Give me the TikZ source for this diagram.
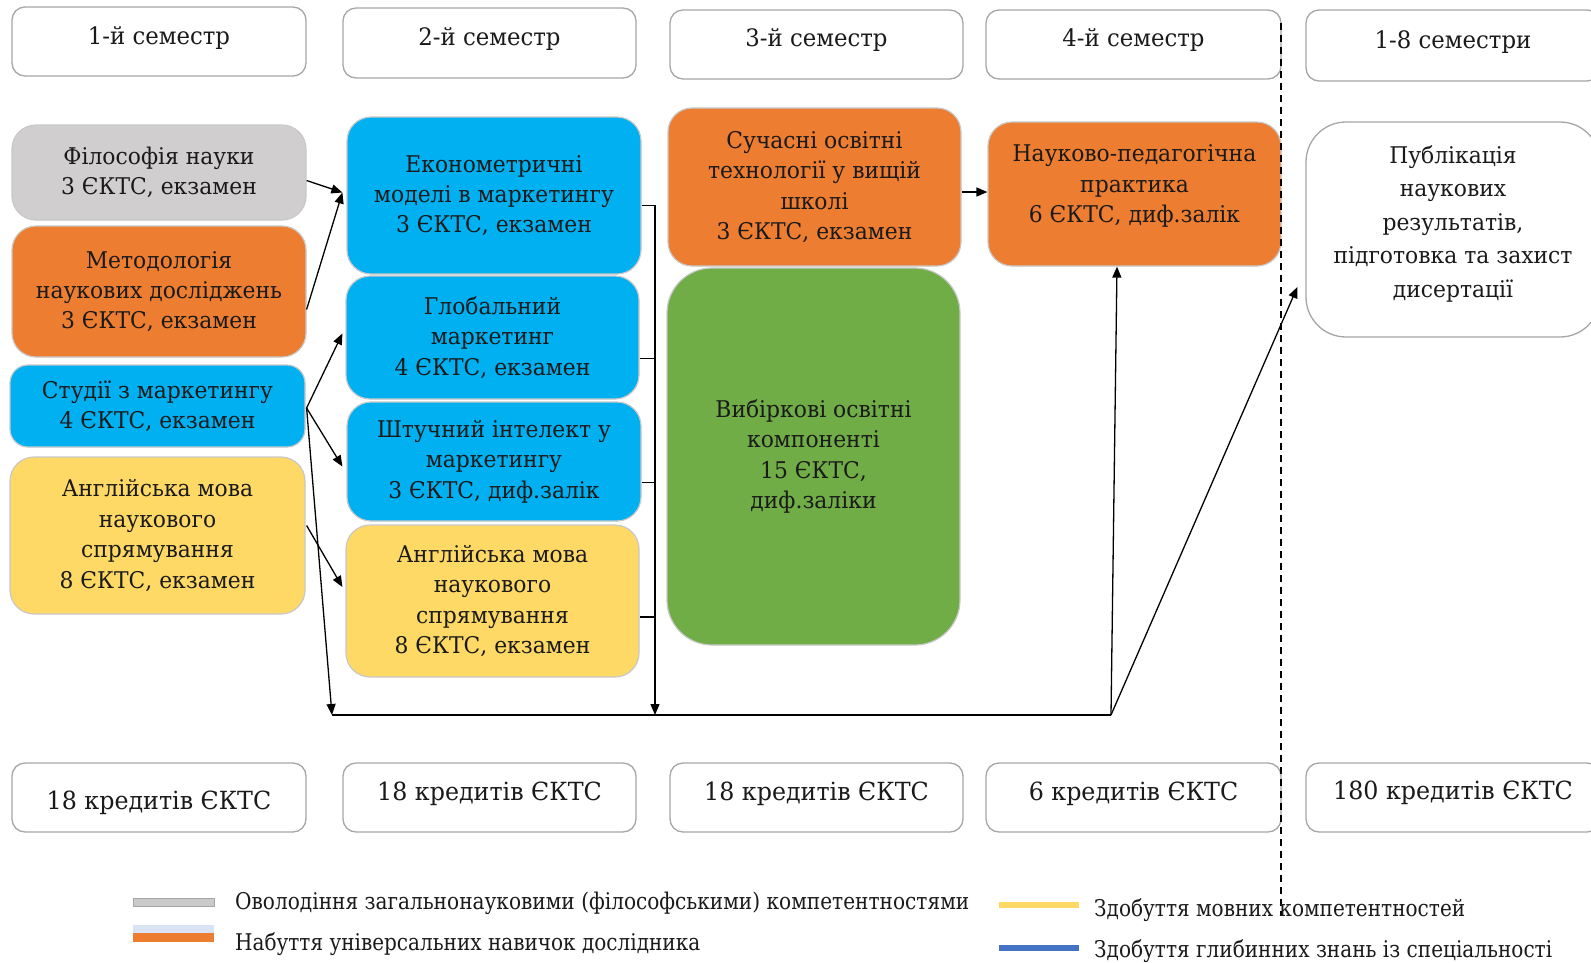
\documentclass[tikz,border=0pt]{standalone}
\usepackage{fontspec}
\setmainfont{DejaVu Serif}
\newfontfamily\tnr{DejaVu Serif}[FakeStretch=0.95]
\usetikzlibrary{arrows.meta,calc}
\definecolor{cgray}{HTML}{D0CECE}
\definecolor{corange}{HTML}{ED7D31}
\definecolor{cblue}{HTML}{00B0F0}
\definecolor{cyellow}{HTML}{FFD966}
\definecolor{cgreen}{HTML}{70AD47}
\definecolor{cline}{HTML}{A6A6A6}
\definecolor{cedge}{HTML}{C8C8C8}
\definecolor{clight}{HTML}{DAE3F3}
\definecolor{cdblue}{HTML}{4472C4}
\definecolor{ctext}{HTML}{1A1A1A}
\newcommand{\upby}[2]{\raisebox{#1}[\height][\depth]{#2}}
\newcommand{\lines}[1]{\begin{tabular}{@{}c@{}}#1\end{tabular}}
\tikzset{
  txt/.style={font=\tnr\fontsize{23}{30.4}\selectfont, text=ctext, align=center, inner sep=0pt},
  cbox/.style={txt, draw=cedge, line width=1.2pt, rounded corners=24pt, fill=#1},
  wbox/.style={txt, draw=cline, line width=1.3pt, rounded corners=13pt, fill=white, minimum height=69pt, minimum width=294pt},
  hbox/.style={wbox, font=\tnr\fontsize{24}{30}\selectfont},
  fbox/.style={wbox, font=\tnr\fontsize{25}{30}\selectfont},
  arr/.style={line width=1.3pt, -{Triangle[length=11pt,width=9pt]}},
  conn/.style={line width=1.3pt},
  dashline/.style={line width=1.8pt, dash pattern=on 7pt off 5pt},
  legtxt/.style={font=\tnr\fontsize{23}{30}\selectfont, text=ctext, anchor=west, inner sep=0pt},
}
\begin{document}
\begin{tikzpicture}[x=1pt,y=-1pt]
\clip (0,0) rectangle (1591,962);
\fill[white] (0,0) rectangle (1591,962);

% header boxes
\node[hbox] (h1) at (159,41.5) {\upby{3pt}{1-й семестр}};
\node[hbox, minimum height=70pt, minimum width=293pt] (h2) at (489.5,43) {\upby{4pt}{2-й семестр}};
\node[hbox, minimum width=293pt] (h3) at (816.5,44.5) {\upby{4pt}{3-й семестр}};
\node[hbox, minimum width=295pt] (h4) at (1133.5,44.5) {\upby{4pt}{4-й семестр}};
\node[hbox, minimum height=71pt] (h5) at (1453,45.5) {\upby{3pt}{1-8 семестри}};

% bottom boxes
\node[fbox] (b1) at (159,797.5) {\upby{-5pt}{18 кредитів ЄКТС}};
\node[fbox, minimum width=293pt] (b2) at (489.5,797.5) {\upby{4pt}{18 кредитів ЄКТС}};
\node[fbox, minimum width=293pt] (b3) at (816.5,797.5) {\upby{4pt}{18 кредитів ЄКТС}};
\node[fbox, minimum width=295pt] (b4) at (1133.5,797.5) {\upby{4pt}{6 кредитів ЄКТС}};
\node[fbox] (b5) at (1453,797.5) {\upby{5pt}{180 кредитів ЄКТС}};

% column 1
\node[cbox=cgray, minimum width=294pt, minimum height=95pt] (phil) at (159,172.5) {Філософія науки\\3 ЄКТС, екзамен};
\node[cbox=corange, minimum width=294pt, minimum height=131pt] (metod) at (159,291.5) {Методологія\\наукових досліджень\\3 ЄКТС, екзамен};
\node[cbox=cblue, minimum width=295pt, minimum height=82pt, rounded corners=18pt] (studii) at (157.5,406) {Студії з маркетингу\\4 ЄКТС, екзамен};
\node[cbox=cyellow, minimum width=295pt, minimum height=157pt] (angl1) at (157.5,535.5) {Англійська мова\\наукового\\спрямування\\8 ЄКТС, екзамен};

% column 2
\node[cbox=cblue, minimum width=294pt, minimum height=157pt] (econ) at (494,195.5) {Економетричні\\моделі в маркетингу\\3 ЄКТС, екзамен};
\node[cbox=cblue, minimum width=293pt, minimum height=123pt] (glob) at (492.5,337.5) {Глобальний\\маркетинг\\4 ЄКТС, екзамен};
\node[cbox=cblue, minimum width=294pt, minimum height=119pt] (shtuch) at (494,461.5) {Штучний інтелект у\\маркетингу\\3 ЄКТС, диф.залік};
\node[cbox=cyellow, minimum width=293pt, minimum height=152pt] (angl2) at (492.5,601) {Англійська мова\\наукового\\спрямування\\8 ЄКТС, екзамен};

% column 3
\node[cbox=corange, minimum width=293pt, minimum height=158pt] (suchas) at (814.5,187) {Сучасні освітні\\технології у вищій\\школі\\3 ЄКТС, екзамен};
\node[cbox=cgreen, minimum width=293pt, minimum height=377pt, rounded corners=45pt] (vybir) at (813.5,456.5) {Вибіркові освітні\\компоненті\\15 ЄКТС,\\диф.заліки};

% column 4
\node[cbox=corange, minimum width=293pt, minimum height=144pt] (nauk) at (1134.5,194) {\upby{8pt}{\lines{Науково-педагогічна\\практика\\6 ЄКТС, диф.залік}}};

% column 5
\node[txt, draw=cline, line width=1.3pt, fill=white, rounded corners=40pt, minimum width=294pt, minimum height=215pt, font=\tnr\fontsize{23}{33.5}\selectfont] (pub) at (1453,229.5) {\upby{6pt}{\lines{Публікація\\наукових\\результатів,\\підготовка та захист\\дисертації}}};

% connectors
\coordinate (ein) at ($(econ.west)+(-4,-3)$);
\draw[arr] ($(phil.east)+(0,8)$) -- (ein);
\draw[arr] ($(metod.east)+(0,18)$) -- (ein);
\coordinate (sout) at ($(studii.east)+(1,2)$);
\draw[arr] (sout) -- ($(glob.west)+(-3,-4)$);
\draw[arr] (sout) -- ($(shtuch.west)+(-4,5)$);
\draw[arr] ($(angl1.east)+(1,-10)$) -- ($(angl2.west)+(-3,-14)$);

\coordinate (bl) at (332,715);
\coordinate (bm) at (655,715);
\coordinate (br) at (1111,715);
\draw[arr] (sout) -- (bl);
\draw[conn] (bl) -- (br);
\draw[arr] ($(econ.east)+(0,10)$) -| (bm);
\draw[conn] ($(glob.east)+(0,21)$) -- ($(glob.east)+(16,21)$);
\draw[conn] ($(shtuch.east)+(0,21)$) -- ($(shtuch.east)+(14,21)$);
\draw[conn] ($(angl2.east)+(0,16)$) -- ($(angl2.east)+(16,16)$);

\draw[arr] ($(suchas.east)+(0,5)$) -- ($(nauk.west)+(0,-2)$);
\draw[arr] (br) -- ($(nauk.south)+(-17.5,0)$);
\draw[arr] (br) -- ($(pub.west)+(-8,57.5)$);

% dashed divider
\coordinate (dtop) at (1281,23);
\coordinate (dbot) at (1281,915);
\draw[dashline] (dtop) -- (dbot);

% legend
\fill[cline!60] (133,898) rectangle (214,906);
\draw[cline, line width=0.6pt] (133,898) rectangle (214,906);
\fill[clight] (133,925) rectangle (214,933);
\fill[corange] (133,933) rectangle (214,942);
\fill[cyellow] (999,902) rectangle (1079,908);
\fill[cdblue] (999,945) rectangle (1079,951);
\node[legtxt] (l1) at (235,903) {\resizebox{734pt}{\height}{Оволодіння загальнонауковими (філософськими) компетентностями}};
\node[legtxt] (l2) at (235,944) {\resizebox{465pt}{\height}{Набуття універсальних навичок дослідника}};
\node[legtxt] (l3) at (1094,910) {\resizebox{371pt}{\height}{Здобуття мовних компетентностей}};
\node[legtxt] (l4) at (1094,951) {\resizebox{458pt}{\height}{Здобуття глибинних знань із спеціальності}};
\end{tikzpicture}
\end{document}
